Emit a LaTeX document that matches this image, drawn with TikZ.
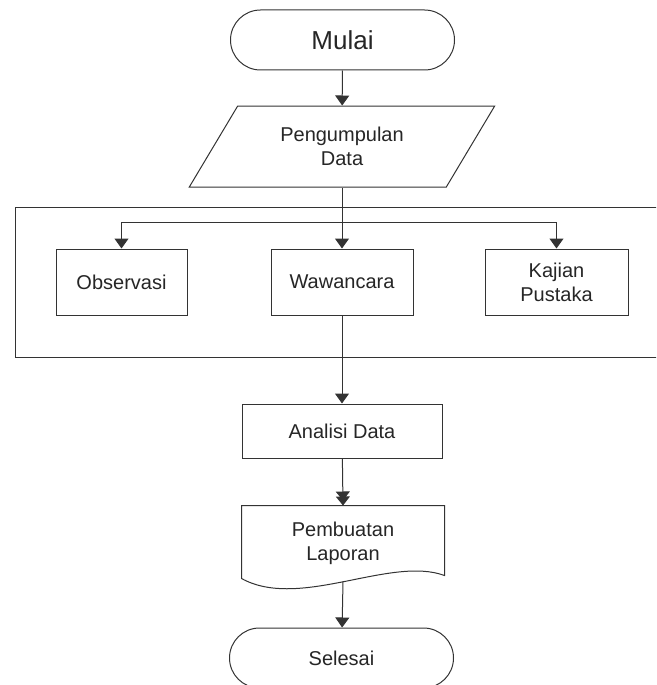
\documentclass[tikz,border=0pt]{standalone}
\usepackage{fontspec}
\setmainfont{Liberation Sans}
\usetikzlibrary{arrows.meta}
\usetikzlibrary{shapes.geometric}
\usetikzlibrary{calc}

\begin{document}
\begin{tikzpicture}[x=1pt, y=-1pt,
    garis/.style={draw=black!80, line width=1pt},
    proses/.style={garis, rectangle, fill=white, text=black!85, font=\fontsize{20}{24}\selectfont, align=center, inner sep=0pt},
    terminal/.style={proses, rounded corners=30pt, minimum width=224pt, minimum height=60pt},
    arus/.style={garis, -{Triangle[width=14pt,length=10pt]}}]
            \useasboundingbox (0,0) rectangle (656,685);
            \clip (0,0) rectangle (656,685);

            % Group box
            \draw[garis] (15,207) rectangle (700,357);

            % Nodes
            \node[terminal, font=\fontsize{26}{30}\selectfont] (mulai) at (342.5,40) {Mulai};
            \node[proses, trapezium, trapezium left angle=53.5, trapezium right angle=126.5,
                  trapezium stretches=true, minimum width=306pt, minimum height=81pt] (pd) at (342,146.5) {Pengumpulan\\Data};
            \node[proses, minimum width=131pt, minimum height=66pt] (obs) at (121.5,282) {Observasi};
            \node[proses, minimum width=142pt, minimum height=66pt] (waw) at (342,282) {Wawancara};
            \node[proses, minimum width=143pt, minimum height=66pt] (kaj) at (556.5,282) {Kajian\\Pustaka};
            \node[proses, minimum width=200pt, minimum height=54pt] (ana) at (342,431) {Analisi Data};
            \node[proses, draw=none, fill=none, minimum width=202pt, minimum height=75pt] (lap) at (343,543.5) {Pembuatan\\Laporan};
            \node[terminal] (sel) at (341.5,658) {Selesai};

            % Document shape
            \draw[garis] ([yshift=3pt]lap.south west) -- (lap.north west) -- (lap.north east)
                -- ([yshift=6pt]lap.south east)
                .. controls +(-54pt,20pt) and +(58pt,-32pt) .. ([yshift=3pt]lap.south west) -- cycle;

            % Arrows
            \coordinate (cabang) at (342,222);
            \draw[arus] (mulai) -- (pd);
            \draw[arus] (pd) -- (waw);
            \draw[arus] (cabang) -| (obs.north);
            \draw[arus] (cabang) -| (kaj.north);
            \draw[arus] (waw) -- (ana);
            \draw[garis, -{Triangle[width=14pt,length=9pt,sep=-4pt]Triangle[width=14pt,length=9pt]}] (ana) -- (lap.north);
            \draw[arus] (lap.south) -- (sel);
\end{tikzpicture}
\end{document}
